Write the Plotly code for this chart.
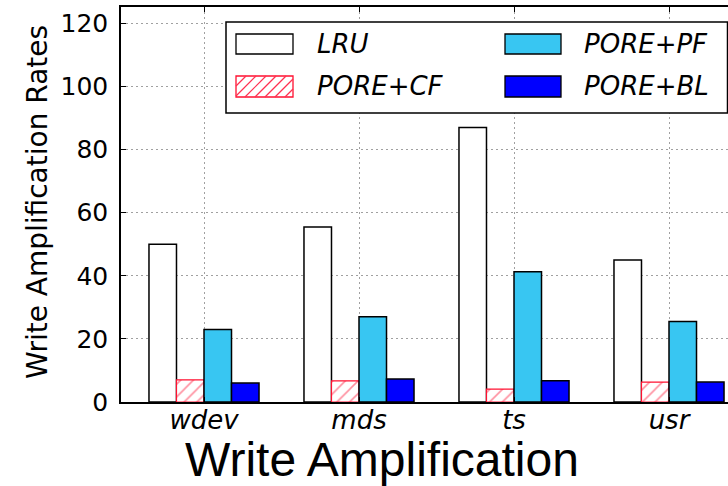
import plotly.graph_objects as go

categories = ["wdev", "mds", "ts", "usr"]
series_names = ["LRU", "PORE+CF", "PORE+PF", "PORE+BL"]
lru = [50, 55.5, 87, 45]
pore_cf = [7, 6.7, 4.1, 6.3]
pore_pf = [23, 27, 41.3, 25.5]
pore_bl = [6, 7.3, 6.7, 6.3]
y_ticks = [0, 20, 40, 60, 80, 100, 120]

W, H = 728, 486
ML, MR, MT, MB = 121, 0, 7, 84
PW, PH = W - ML - MR, H - MT - MB


def px(x):
    return (x - ML) / PW


def py(y):
    return (H - MB - y) / PH


fig = go.Figure()
fig.add_trace(go.Bar(x=categories, y=lru, name=series_names[0],
                     marker=dict(color="white", line=dict(color="black", width=1.5))))
fig.add_trace(go.Bar(x=categories, y=pore_cf, name=series_names[1],
                     marker=dict(color="white", line=dict(color="#ff1030", width=1.2),
                                 pattern=dict(shape="/", fgcolor="#ff2040", bgcolor="white",
                                              size=9, solidity=0.18))))
fig.add_trace(go.Bar(x=categories, y=pore_pf, name=series_names[2],
                     marker=dict(color="#38c6f2", line=dict(color="black", width=1.5))))
fig.add_trace(go.Bar(x=categories, y=pore_bl, name=series_names[3],
                     marker=dict(color="#0000ff", line=dict(color="black", width=1.5))))

grid = dict(showgrid=True, gridcolor="#a0a0a0", gridwidth=1, griddash="2px,3px")
fig.update_layout(
    width=W, height=H,
    margin=dict(l=ML, r=MR, t=MT, b=MB, pad=0),
    paper_bgcolor="white", plot_bgcolor="white",
    barmode="group", bargap=0.29, bargroupgap=0,
    showlegend=False,
    font=dict(family="DejaVu Sans", color="black"),
    xaxis=dict(range=[-(204 - ML) / 155, (W - 204) / 155], **grid,
               showline=True, linecolor="black", linewidth=1.5, mirror="ticks",
               ticks="inside", ticklen=5, tickcolor="black",
               tickfont=dict(family="DejaVu Sans", size=26, style="italic"),
               ticklabelstandoff=-6, zeroline=False),
    yaxis=dict(range=[0, 125.2], tickvals=y_ticks, **grid,
               showline=True, linecolor="black", linewidth=1.5,
               ticks="inside", ticklen=5, tickcolor="black",
               tickfont=dict(family="DejaVu Sans", size=25),
               ticklabelstandoff=6, zeroline=False),
)

# axis titles
fig.add_annotation(text="Write Amplification Rates", xref="paper", yref="paper",
                   x=px(37), y=py(202), textangle=-90, showarrow=False,
                   font=dict(family="DejaVu Sans", size=28), xanchor="center", yanchor="middle")
fig.add_annotation(text="Write Amplification", xref="paper", yref="paper",
                   x=px(382), y=py(460), showarrow=False,
                   font=dict(family="Liberation Sans", size=48), xanchor="center", yanchor="middle")

# manual legend
shapes = []
shapes.append(dict(type="rect", xref="paper", yref="paper", x0=px(226), x1=px(727.5),
                   y0=py(113), y1=py(22), fillcolor="white",
                   line=dict(color="black", width=1.5), layer="above"))
patches = [
    (236, 293, 34, 54, "white", "black"),
    (236, 293, 76, 97, "white", "#ff1030"),
    (505, 561, 34, 54, "#38c6f2", "black"),
    (505, 561, 76, 97, "#0000ff", "black"),
]
for x0, x1, y0, y1, fc, lc in patches:
    shapes.append(dict(type="rect", xref="paper", yref="paper", x0=px(x0), x1=px(x1),
                       y0=py(y1), y1=py(y0), fillcolor=fc,
                       line=dict(color=lc, width=1.3), layer="above"))

# hatch for CF legend patch
hx0, hx1, hy0, hy1 = 236, 293, 76, 97
h = hy1 - hy0
c = hx0 - h
while c < hx1:
    xa, ya = c, hy1
    xb, yb = c + h, hy0
    if xa < hx0:
        ya = hy1 - (hx0 - c)
        xa = hx0
    if xb > hx1:
        yb = hy1 - (hx1 - c)
        xb = hx1
    if xb > xa:
        shapes.append(dict(type="line", xref="paper", yref="paper",
                           x0=px(xa), y0=py(ya), x1=px(xb), y1=py(yb),
                           line=dict(color="#ff3050", width=1.2), layer="above"))
    c += 10
fig.update_layout(shapes=shapes)

legend_text = [(315, 44, series_names[0]), (315, 86, series_names[1]),
               (582, 44, series_names[2]), (582, 86, series_names[3])]
for x, y, t in legend_text:
    fig.add_annotation(text=t, xref="paper", yref="paper", x=px(x), y=py(y),
                       showarrow=False, xanchor="left", yanchor="middle",
                       font=dict(family="DejaVu Sans", size=26, style="italic"))

fig.write_html("out.html")
